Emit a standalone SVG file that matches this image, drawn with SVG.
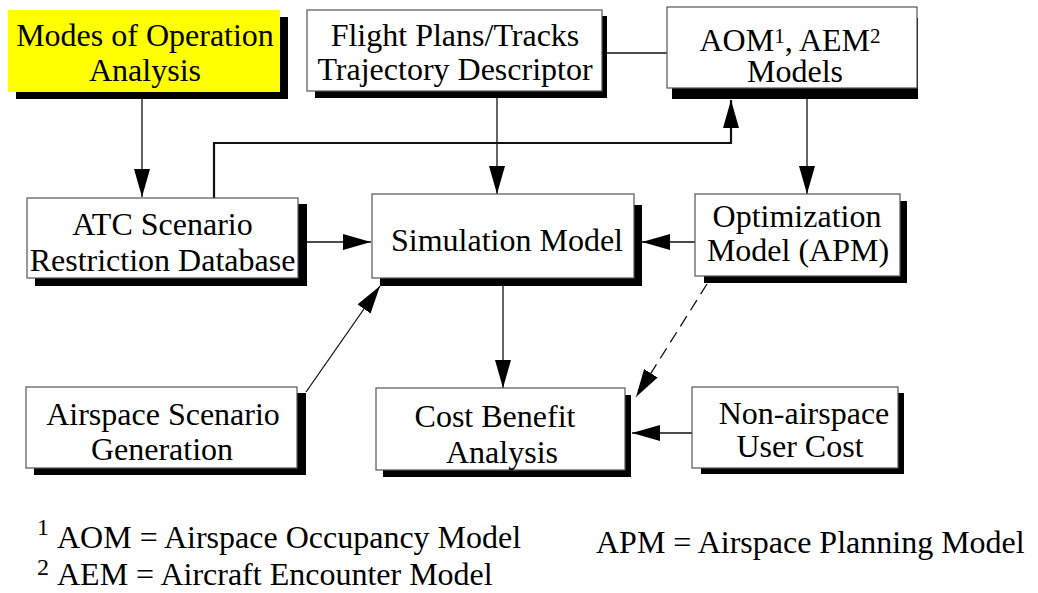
<svg xmlns="http://www.w3.org/2000/svg" width="1038" height="593" viewBox="0 0 1038 593">
<style>
.box{fill:#fff;stroke:#555;stroke-width:1.2}
.sh{fill:#000}
.t{text-anchor:middle}
.c{fill:none;stroke:#111;stroke-width:1.3}
</style>
<defs>
<marker id="ah" viewBox="0 0 28 16" markerWidth="28" markerHeight="16" refX="28" refY="8" orient="auto" markerUnits="userSpaceOnUse">
<path d="M0,0 L28,8 L0,16 Z" fill="#000"/>
</marker>
</defs>
<rect width="1038" height="593" fill="#fff"/>
<g id="connectors">
<line class="c" x1="142" y1="99" x2="142" y2="197" marker-end="url(#ah)"/>
<polyline class="c" style="stroke-width:2.2" points="214,198 214,143 731,143 731,100" marker-end="url(#ah)"/>
<line class="c" x1="497" y1="98" x2="497" y2="194" marker-end="url(#ah)"/>
<line class="c" x1="607" y1="53" x2="667" y2="53"/>
<line class="c" x1="807" y1="99" x2="807" y2="194" marker-end="url(#ah)"/>
<line class="c" x1="307" y1="242" x2="371" y2="242" marker-end="url(#ah)"/>
<line class="c" x1="695" y1="242" x2="642" y2="242" marker-end="url(#ah)"/>
<line class="c" x1="503" y1="286" x2="503" y2="388" marker-end="url(#ah)"/>
<line class="c" x1="306" y1="392" x2="380" y2="286" marker-end="url(#ah)"/>
<line class="c" x1="707" y1="284" x2="636" y2="397" stroke-dasharray="12,7" marker-end="url(#ah)"/>
<line class="c" x1="692" y1="433" x2="632" y2="433" marker-end="url(#ah)"/>
</g>
<g font-family="Liberation Serif, Times New Roman, DejaVu Serif, serif" font-size="32" fill="#000">
<g id="modes">
<rect class="sh" x="16" y="17" width="272" height="82"/>
<rect x="8" y="10" width="272" height="82" fill="#ffff00"/>
<text class="t" x="145" y="46">Modes of Operation</text>
<text class="t" x="145" y="80.5">Analysis</text>
</g>
<g id="flight">
<rect class="sh" x="315" y="16" width="292" height="82"/>
<rect class="box" x="307" y="10" width="295" height="81"/>
<text class="t" x="455" y="46">Flight Plans/Tracks</text>
<text class="t" x="455" y="80">Trajectory Descriptor</text>
</g>
<g id="aom">
<rect class="sh" x="672" y="18" width="246" height="81"/>
<rect class="box" x="667" y="7" width="250" height="81"/>
<text class="t" x="790" y="51">AOM<tspan font-size="21" dy="-8">1</tspan><tspan dy="8">, AEM</tspan><tspan font-size="21" dy="-8">2</tspan></text>
<text class="t" x="795" y="82">Models</text>
</g>
<g id="atc">
<rect class="sh" x="35" y="204" width="272" height="82"/>
<rect class="box" x="27" y="198" width="271" height="80"/>
<text class="t" x="162.5" y="235">ATC Scenario</text>
<text class="t" x="162.5" y="271">Restriction Database</text>
</g>
<g id="simulation">
<rect class="sh" x="380" y="205" width="262" height="81"/>
<rect class="box" x="372" y="194" width="262" height="84"/>
<text class="t" x="507" y="250.5">Simulation Model</text>
</g>
<g id="optimization">
<rect class="sh" x="704" y="201" width="203" height="82"/>
<rect class="box" x="695" y="194" width="205" height="82"/>
<text class="t" x="797" y="226.5">Optimization</text>
<text class="t" x="798" y="261">Model (APM)</text>
</g>
<g id="airspace">
<rect class="sh" x="34" y="393" width="272" height="82"/>
<rect class="box" x="26" y="387" width="271" height="81"/>
<text class="t" x="163" y="425">Airspace Scenario</text>
<text class="t" x="162" y="460">Generation</text>
</g>
<g id="cost">
<rect class="sh" x="383" y="395" width="248" height="82"/>
<rect class="box" x="376" y="388" width="249" height="82"/>
<text class="t" x="495" y="427">Cost Benefit</text>
<text class="t" x="502" y="462.5">Analysis</text>
</g>
<g id="nonairspace">
<rect class="sh" x="701" y="393" width="203" height="81"/>
<rect class="box" x="692" y="387" width="206" height="81"/>
<text class="t" x="804" y="424">Non-airspace</text>
<text class="t" x="800" y="457">User Cost</text>
</g>
<g id="footnotes">
<text x="37" y="535" font-size="24">1</text>
<text x="57" y="548">AOM = Airspace Occupancy Model</text>
<text x="37" y="575" font-size="24">2</text>
<text x="57" y="585">AEM = Aircraft Encounter Model</text>
<text x="596" y="553">APM = Airspace Planning Model</text>
</g>
</g>
</svg>
